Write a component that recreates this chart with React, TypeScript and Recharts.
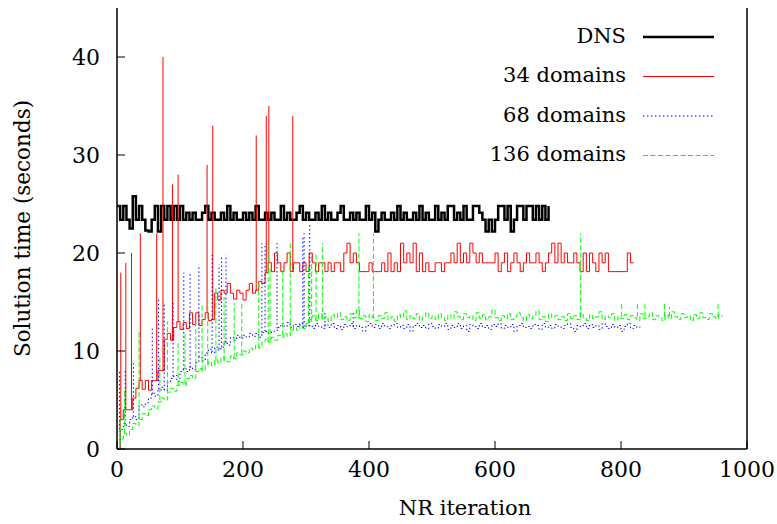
import React from 'react';
import { LineChart, Line, XAxis, YAxis, Legend } from 'recharts';

const serif = 'DejaVu Serif';

const xTicks = [0, 200, 400, 600, 800, 1000];
const yTicks = [0, 10, 20, 30, 40];
const seriesNames = ['DNS', '34 domains', '68 domains', '136 domains'];

// every series is sampled every 5 NR iterations, starting at 0
const iterStep = 5;

const dnsTime = [
  24.8, 23.4, 24.8, 23.4, 22.5, 25.8, 23.4, 24.8, 23.4, 22.3,
  22.2, 23.4, 24.8, 22.2, 24.8, 23.4, 24.8, 23.4, 24.8, 23.4,
  24.8, 23.4, 24.1,
  23.4, 24.1, 23.4, 23.4, 24.1, 24.8, 23.4, 24.1, 23.4, 23.4, 24.1, 23.4, 24.8, 23.4, 24.1, 23.4, 23.4, 24.1,
  23.4, 24.1, 23.4, 24.8, 23.4, 23.4, 24.1, 23.4, 24.1, 23.4, 23.4, 24.8, 23.4, 24.1, 23.4, 23.4, 24.1, 24.8, 23.4, 24.1,
  23.4, 23.4, 24.1, 23.4, 24.8, 23.4, 24.1, 23.4, 23.4, 24.1, 24.8, 23.4, 23.4, 24.1, 23.4, 24.1, 23.4, 23.4, 24.8, 23.4,
  24.1, 22.2, 23.4, 24.1, 23.4, 23.4, 24.1, 23.4, 24.8, 23.4, 24.1, 23.4, 23.4, 24.1, 23.4, 24.8, 23.4, 24.1, 23.4, 23.4,
  24.8, 23.4, 24.1, 23.4, 24.8, 24.8, 23.4, 24.1, 23.4, 24.8, 23.4, 23.4, 24.8, 24.8, 24.1, 23.4, 22.2, 23.4, 22.2, 23.4,
  24.8, 24.8, 23.4, 24.8, 22.2, 23.4, 24.8, 24.8, 23.4, 24.8, 24.8, 23.4, 24.8, 23.4, 24.8, 23.4, 24.8,
];

const d34Time = [
  0, 3.0, 4.0, 4.0, 4.0, 5.2, 6.2, 7.0, 6.1, 7.0,
  6.0, 7.0, 7.0, 8.0, 8.0, 11.2, 11.8, 11.1, 12.4, 13.0,
  12.2, 12.9, 12.3, 13.9, 12.7, 13.9, 12.6, 13.2, 13.9, 13.1,
  13.2, 15.9, 15.2, 16.2, 15.9, 16.9, 15.9, 15.3, 16.2, 15.9,
  15.2, 16.2, 16.9, 15.9, 16.2, 17.1, 16.9, 18.0, 19.0, 18.1,
  20.0, 19.0, 18.1, 19.0, 20.0, 18.1, 19.0, 19.0, 18.1, 19.0,
  18.1, 20.0, 19.0, 18.1, 19.0, 19.0, 18.1, 19.0, 18.1, 19.0,
  19.0, 18.1, 20.0, 21.0, 19.0, 20.0, 19.0, 18.1, 18.1, 18.1,
  19.0, 18.1, 18.1, 18.1, 19.0, 18.1, 20.0, 18.1, 19.0, 18.1,
  21.0, 19.0, 20.0, 19.0, 21.0, 18.1, 20.0, 18.1, 19.0, 18.1,
  18.1, 19.0, 19.0, 18.1, 19.0, 19.0, 20.0, 19.0, 21.0, 19.0,
  20.0, 19.0, 21.0, 20.0, 19.0, 20.0, 19.0, 19.0, 19.0, 19.0,
  20.0, 18.1, 19.0, 20.0, 18.1, 19.0, 20.0, 19.0, 18.1, 19.0,
  20.0, 19.0, 19.0, 20.0, 19.0, 18.1, 19.0, 20.0, 21.0, 19.0,
  21.0, 19.0, 20.0, 19.0, 19.0, 20.0, 19.0, 18.1, 20.0, 18.1,
  20.0, 19.0, 18.1, 20.0, 19.0, 20.0, 18.1, 18.1, 18.1, 18.1,
  18.1, 18.1, 20.0, 19.0, 19.0,
];

const d68Time = [
  0, 2.0, 2.6, 2.3, 3.0, 3.3, 3.0, 4.5, 4.3, 4.7,
  5.2, 5.7, 5.4, 6.0, 6.3, 6.0, 6.8, 7.2, 7.5, 6.9,
  7.9, 8.2, 7.9, 8.4, 8.1, 8.8, 9.4, 9.0, 9.8, 10.2,
  9.8, 10.4, 10.1, 10.4, 11.0, 10.6, 11.4, 11.1, 11.6, 11.3,
  11.6, 11.4, 11.8, 11.5, 11.8, 11.4, 11.9, 12.0, 11.8, 12.0,
  12.1, 12.4, 12.8, 12.5, 12.9, 12.4, 12.7, 12.5, 12.8, 12.4,
  12.6,
  12.6, 12.3, 12.8, 12.5, 12.3, 12.7, 12.4, 12.8, 12.3, 12.6, 12.2, 12.7, 12.5, 12.8, 12.3, 12.6, 12.4, 12.0, 12.6, 12.8,
  12.4, 12.7, 12.3, 12.8, 12.5, 12.3, 12.6, 12.8, 12.4, 12.6, 12.3, 12.7, 12.0, 12.6, 12.8, 12.4, 12.6, 12.3, 12.8, 12.5,
  12.3, 12.7, 12.5, 12.8, 12.2, 12.6, 12.4, 12.8, 12.3, 12.6, 12.0, 12.7, 12.5, 12.3, 12.8, 12.4, 12.6, 12.2, 12.7, 12.5,
  12.8, 12.3, 12.6, 12.4, 12.7, 12.0, 12.6, 12.8, 12.4, 12.5, 12.3, 12.7, 12.6, 12.2, 12.8, 12.4, 12.6, 12.3, 12.7, 12.5,
  12.3, 12.6, 12.8, 12.4, 12.0, 12.6, 12.5, 12.8, 12.3, 12.7, 12.4, 12.6, 12.2, 12.8, 12.5, 12.3, 12.7, 12.4, 12.6, 12.0,
  12.5, 12.8, 12.3, 12.6, 12.4, 12.5,
];

const d136Time = [
  0, 1.0, 1.6, 1.4, 2.0, 2.6, 2.4, 3.0, 3.6, 3.4,
  4.0, 4.4, 4.1, 4.8, 5.2, 5.0, 5.8, 6.2, 5.9, 6.5,
  6.8, 6.5, 7.2, 7.5, 7.2, 7.9, 8.2, 8.0, 8.6, 8.9,
  8.5, 9.1, 8.8, 9.4, 9.0, 8.9, 9.5, 9.2, 9.8, 9.6,
  10.0, 9.8, 10.3, 10.1, 10.6, 10.3, 10.9, 11.2, 10.9, 11.4,
  11.1, 11.6, 11.4, 11.8, 11.5, 12.1, 12.4, 12.1, 12.6, 12.3,
  12.8,
  13.2, 13.6, 13.1, 13.8, 13.3, 13.5, 13.0, 13.7, 13.4, 13.9, 13.2, 13.5, 13.1, 13.8, 13.4, 14.2, 13.3, 13.6, 13.0, 13.7,
  13.4, 13.1, 13.6, 13.3, 13.9, 13.2, 13.5, 13.0, 13.7, 13.4, 14.1, 13.2, 13.6, 13.3, 13.8, 13.1, 13.5, 13.9, 13.3, 13.6,
  13.2, 13.8, 13.4, 13.1, 13.7, 13.3, 14.0, 13.5, 13.2, 13.8, 13.4, 13.6, 13.1, 13.9, 13.3, 13.7, 13.2, 13.5, 14.2, 13.4,
  13.1, 13.6, 13.3, 13.8, 13.2, 13.5, 13.9, 13.4, 13.1, 13.7, 13.3, 13.6, 14.1, 13.2, 13.5, 13.0, 13.8, 13.4, 13.6, 13.2,
  13.5, 13.1, 13.8, 13.3, 13.6, 13.2, 13.9, 13.4, 13.1, 13.7, 13.3, 13.5, 14.0, 13.2, 13.6, 13.4, 13.8, 13.1, 13.5, 13.3,
  13.7, 13.2, 13.6, 13.4, 13.1, 13.8, 13.3, 13.5, 13.9, 13.2, 13.6, 13.4, 13.1, 13.7, 13.3, 14.0, 13.5, 13.2, 13.8, 13.4,
  13.6, 13.1, 13.7, 13.3, 13.9, 13.4, 13.2, 13.8, 13.5, 13.3, 13.7, 13.5,
];

// single-iteration spikes: [iteration, from, to]
const d34Spikes = [
  [6, 3.0, 18], [14, 4.0, 19], [23, 4.0, 20], [37, 7.0, 22], [63, 7.0, 22],
  [73, 8.0, 40], [88, 11.1, 27], [97, 13.0, 28], [143, 13.9, 29], [152, 13.2, 33],
  [221, 16.2, 32], [237, 18.0, 34], [241, 19.0, 35], [279, 18.1, 34],
];

const d68Spikes = [
  [4, 2.0, 8], [13, 2.5, 8], [26, 3.3, 9], [56, 5.6, 12.5], [66, 6.1, 15.5],
  [75, 6.0, 15], [89, 7.4, 15], [106, 8.1, 18], [116, 8.3, 18], [130, 9.4, 18.8],
  [151, 9.9, 19.8], [162, 10.2, 18.8], [166, 10.4, 19.8], [173, 10.8, 19.8],
  [230, 11.9, 21], [235, 12.0, 21], [254, 12.3, 21], [295, 12.4, 21.8],
  [297, 12.5, 22], [306, 12.5, 23], [330, 12.5, 14], [375, 12.5, 14],
];

const d136Spikes = [
  [5, 1.0, 3], [12, 1.6, 6], [35, 3.0, 12], [68, 5.0, 9.3], [80, 5.8, 13],
  [97, 6.5, 10.8], [108, 6.6, 11.8], [125, 7.9, 13.2], [135, 8.0, 14.9],
  [144, 8.7, 15.2], [157, 9.0, 16.6], [170, 9.0, 15.5], [186, 9.3, 14.9],
  [198, 9.7, 14.9], [225, 10.3, 16.9], [240, 10.9, 21], [243, 11.0, 18.6],
  [263, 11.6, 18.6], [275, 12.1, 21], [304, 12.8, 18.6], [309, 13.0, 20],
  [316, 13.2, 20], [326, 13.2, 21], [384, 13.3, 22], [407, 13.3, 22],
  [736, 13.4, 22], [801, 13.5, 15], [826, 13.5, 15], [838, 13.5, 14.8],
  [869, 13.5, 15], [877, 13.5, 14.5], [954, 13.5, 15],
];

const styles = [
  { color: '#000000', width: 2.5, dash: undefined },
  { color: '#ff0000', width: 1, dash: undefined },
  { color: '#0000ff', width: 1, dash: '1.5 2.5' },
  { color: '#00ff00', width: 1, dash: '5 2.5' },
];

const toRows = (vals: number[]) => vals.map((time, i) => ({ iter: i * iterStep, time }));
const spikeRows = (s: number[]) => [
  { iter: s[0], time: s[1] },
  { iter: s[0], time: s[2] },
];

const series = [
  { rows: toRows(dnsTime), spikes: [] as number[][] },
  { rows: toRows(d34Time), spikes: d34Spikes },
  { rows: toRows(d68Time), spikes: d68Spikes },
  { rows: toRows(d136Time), spikes: d136Spikes },
];

const KeyBox = () => (
  <svg width={777} height={180} style={{ display: 'block' }}>
    {seriesNames.map((name, i) => {
      const y = 37 + i * 39.5;
      const s = styles[i];
      return (
        <g key={name}>
          <text x={626} y={y + 5.5} textAnchor="end" fontFamily={serif} fontSize={21} fill="#000">
            {name}
          </text>
          <line x1={643} x2={714} y1={y} y2={y} stroke={s.color} strokeWidth={s.width} strokeDasharray={s.dash} />
        </g>
      );
    })}
  </svg>
);

const tickStyle = { fill: '#000', fontSize: 22, fontFamily: serif };
const axisStyle = { stroke: '#000', strokeWidth: 1.5 };

export default function App() {
  return (
    <div style={{ position: 'absolute', left: 0, top: 0 }}>
      <LineChart width={777} height={524} margin={{ top: 8, right: 0, bottom: 0, left: 0 }}>
        <XAxis
          dataKey="iter"
          type="number"
          domain={[0, 1000]}
          ticks={xTicks}
          height={75}
          tick={tickStyle}
          tickSize={-8}
          tickMargin={20}
          axisLine={axisStyle}
          tickLine={{ stroke: '#000' }}
          label={{ value: 'NR iteration', position: 'insideBottom', offset: 9, dx: 33, fill: '#000', fontSize: 21, fontFamily: serif }}
        />
        <XAxis
          xAxisId="top"
          orientation="top"
          type="number"
          domain={[0, 1000]}
          ticks={xTicks}
          height={0}
          tick={false}
          tickSize={-8}
          axisLine={axisStyle}
          tickLine={{ stroke: '#000' }}
        />
        <YAxis
          type="number"
          domain={[0, 45]}
          ticks={yTicks}
          width={117}
          tick={tickStyle}
          tickSize={-8}
          tickMargin={25}
          axisLine={axisStyle}
          tickLine={{ stroke: '#000' }}
          label={{
            value: 'Solution time (seconds)',
            angle: -90,
            position: 'insideLeft',
            offset: 22,
            fill: '#000',
            fontSize: 21.5,
            fontFamily: serif,
            style: { textAnchor: 'middle' },
          }}
        />
        <YAxis
          yAxisId="right"
          orientation="right"
          type="number"
          domain={[0, 45]}
          ticks={yTicks}
          width={30}
          tick={false}
          tickSize={-8}
          axisLine={axisStyle}
          tickLine={{ stroke: '#000' }}
        />
        <Legend layout="horizontal" verticalAlign="middle" align="center" content={KeyBox}
          wrapperStyle={{ top: 0, left: 0, width: 777, height: 180 }} />
        {series.map((s, i) => [
          <Line
            key={`base-${i}`}
            data={s.rows}
            dataKey="time"
            type="stepAfter"
            name={seriesNames[i]}
            stroke={styles[i].color}
            strokeWidth={styles[i].width}
            strokeDasharray={styles[i].dash}
            dot={false}
            isAnimationActive={false}
          />,
          ...s.spikes.map((sp, j) => (
            <Line
              key={`spike-${i}-${j}`}
              data={spikeRows(sp)}
              dataKey="time"
              legendType="none"
              stroke={styles[i].color}
              strokeWidth={styles[i].width}
              strokeDasharray={styles[i].dash}
              dot={false}
              isAnimationActive={false}
            />
          )),
        ])}
      </LineChart>
    </div>
  );
}
